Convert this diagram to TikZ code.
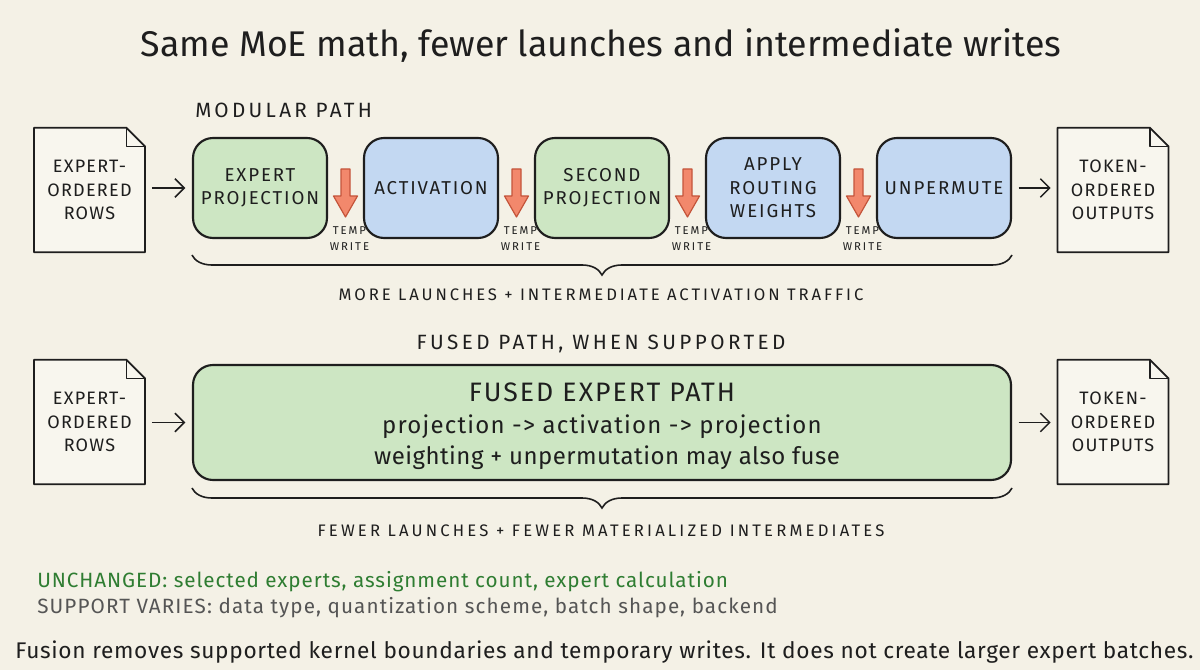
\documentclass[tikz,border=0pt]{standalone}
\usepackage{fontspec}
\setmainfont{Fira Sans}
\usetikzlibrary{decorations.pathreplacing,arrows.meta}
\definecolor{bg}{HTML}{F4F1E6}
\definecolor{docfill}{HTML}{F8F6EE}
\definecolor{gfill}{HTML}{CDE6C3}
\definecolor{bfill}{HTML}{C3D8F2}
\definecolor{rfill}{HTML}{F2886C}
\definecolor{rline}{HTML}{C4553B}
\definecolor{ink}{HTML}{1E1E1E}
\definecolor{gtext}{HTML}{2F7D32}
\definecolor{stext}{HTML}{555555}
\newcommand{\fsz}[3]{\fontsize{#1}{#2}\selectfont\addfontfeatures{LetterSpace=#3}}
\begin{document}
\begin{tikzpicture}[x=0.75pt,y=-0.75pt,
  stagebox/.style={draw=ink, line width=1.6pt, rounded corners=15pt,
    minimum width=100.5pt, minimum height=75pt, align=center, inner sep=1pt,
    font=\fsz{14}{17.5}{10}, text=ink},
  gstage/.style={stagebox, fill=gfill},
  bstage/.style={stagebox, fill=bfill},
  docbox/.style={minimum width=83pt, minimum height=93pt, align=center, inner sep=0pt,
    font=\fsz{13.5}{17.5}{7}, text=ink},
  docline/.style={draw=ink, line width=1.3pt, fill=docfill, line join=round},
  foldline/.style={draw=ink, line width=1.1pt, line join=round},
  flow/.style={draw=ink, line width=1.1pt, -{Straight Barb[length=7pt,width=14pt,line width=1.1pt]}},
  tempw/.style={font=\fsz{8.5}{12}{17}, align=center, text=ink, inner sep=0pt},
  redarrow/.pic={\draw[rline, line width=0.9pt, fill=rfill, line join=round]
     (-4.5,-24) -- (4.5,-24) -- (4.5,3) -- (12,3) -- (0,24) -- (-12,3) -- (-4.5,3) -- cycle;},
  hbrace/.style={draw=ink, line width=1.2pt, decorate, decoration={brace, amplitude=15pt}},
  caption/.style={text=ink, anchor=base, inner sep=0pt},
  section/.style={font=\fsz{15.5}{18}{16}, text=ink, anchor=base, inner sep=0pt},
]
\fill[bg] (0,0) rectangle (1200,670);
\useasboundingbox (0,0) rectangle (1200,670);

% title
\node[anchor=base, inner sep=0pt, font=\fontsize{26.8}{30}\selectfont, text=ink] (title) at (601,57)
  {Same MoE math, fewer launches and intermediate writes};

% ---------- modular path ----------
\node[section, anchor=base west] (modlabel) at (195,118) {MODULAR PATH};

\node[docbox] (din1) at (89.5,190) {};
\node[docbox] (dout1) at (1113,190) {};

\node[gstage] (ep)  at (260,188) {EXPERT\\PROJECTION};
\node[bstage] (act) at (431,188) {ACTIVATION};
\node[gstage] (sp)  at (602,188) {SECOND\\PROJECTION};
\node[bstage] (arw) at (773,188) {APPLY\\ROUTING\\WEIGHTS};
\node[bstage] (unp) at (944,188) {UNPERMUTE};

\foreach \d in {din1,dout1}{
  \draw[docline] (\d.north west) -- ([xshift=-14pt]\d.north east) -- ([yshift=-14pt]\d.north east)
    -- (\d.south east) -- (\d.south west) -- cycle;
  \draw[foldline] ([xshift=-14pt]\d.north east) -- ([xshift=-14pt,yshift=-14pt]\d.north east)
    -- ([yshift=-14pt]\d.north east);
}
\node[docbox] (din1t) at (din1) {EXPERT-\\ORDERED\\ROWS};
\node[docbox] (dout1t) at (dout1) {TOKEN-\\ORDERED\\OUTPUTS};

\draw[flow, shorten <=5pt, shorten >=5pt] (din1.east |- ep.west) -- (ep.west);
\draw[flow, shorten <=5pt, shorten >=5pt] (unp.east) -- (dout1.west |- unp.east);

\foreach \x/\n in {345.5/t1,516.5/t2,687.5/t3,858.5/t4}{
  \pic at (\x,193) {redarrow};
  \node[tempw] (\n) at (\x+4,239) {TEMP\\WRITE};
}

\draw[hbrace] (unp.south east |- 0,255) -- (ep.south west |- 0,255) coordinate[midway] (b1);
\node[caption, font=\fsz{12.5}{14}{17.5}] (cap1) at (601,301) {MORE LAUNCHES + INTERMEDIATE ACTIVATION TRAFFIC};

% ---------- fused path ----------
\node[section, font=\fsz{15.5}{18}{16.5}] (fuslabel) at (601,350) {FUSED PATH, WHEN SUPPORTED};

\node[docbox] (din2) at (89.5,422) {};
\node[docbox] (dout2) at (1113,422) {};
\foreach \d in {din2,dout2}{
  \draw[docline] (\d.north west) -- ([xshift=-14pt]\d.north east) -- ([yshift=-14pt]\d.north east)
    -- (\d.south east) -- (\d.south west) -- cycle;
  \draw[foldline] ([xshift=-14pt]\d.north east) -- ([xshift=-14pt,yshift=-14pt]\d.north east)
    -- ([yshift=-14pt]\d.north east);
}
\node[docbox] (din2t) at (din2) {EXPERT-\\ORDERED\\ROWS};
\node[docbox] (dout2t) at (dout2) {TOKEN-\\ORDERED\\OUTPUTS};

\node[stagebox, fill=gfill, minimum width=613.5pt, minimum height=86.25pt] (fused) at (602,422.5) {};
\node[anchor=base, inner sep=0pt, font=\fsz{20}{22}{7.5}, text=ink] (f1) at (602,402) {FUSED EXPERT PATH};
\node[anchor=base, inner sep=0pt, font=\fsz{18}{20}{5}, text=ink] (f2) at (602,433) {projection -> activation -> projection};
\node[anchor=base, inner sep=0pt, font=\fsz{18}{20}{2}, text=ink] (f3) at (607,464) {weighting + unpermutation may also fuse};

\draw[flow, shorten <=5pt, shorten >=5pt] (din2.east |- fused.west) -- (fused.west);
\draw[flow, shorten <=5pt, shorten >=5pt] (fused.east) -- (dout2.west |- fused.east);

\draw[hbrace] (fused.south east |- 0,488) -- (fused.south west |- 0,488) coordinate[midway] (b2);
\node[caption, font=\fsz{12.5}{14}{19}] (cap2) at (601,536) {FEWER LAUNCHES + FEWER MATERIALIZED INTERMEDIATES};

% ---------- notes ----------
\node[anchor=base west, inner sep=0pt, font=\fsz{15.5}{18}{4.5}, text=gtext] (n1) at (37,587)
  {UNCHANGED: selected experts, assignment count, expert calculation};
\node[anchor=base west, inner sep=0pt, font=\fsz{15.5}{18}{5.4}, text=stext] (n2) at (37,613)
  {SUPPORT VARIES: data type, quantization scheme, batch shape, backend};
\node[anchor=base west, inner sep=0pt, font=\fsz{17}{20}{3}, text=ink] (n3) at (15,658)
  {Fusion removes supported kernel boundaries and temporary writes. It does not create larger expert batches.};
\end{tikzpicture}
\end{document}
